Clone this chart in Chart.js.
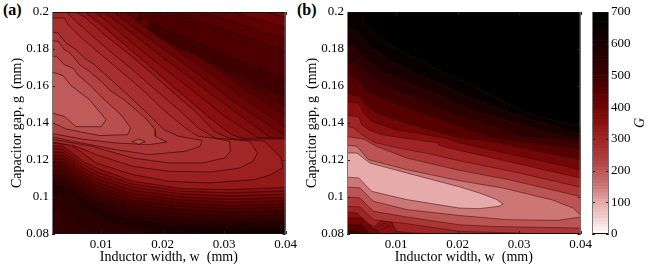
<!DOCTYPE html>
<html lang="en">
<head>
<meta charset="UTF-8">
<title>Contours of G</title>
<script src="https://cdn.jsdelivr.net/npm/chart.js"></script>
<style>
  html, body { margin: 0; background: #fff; }
  canvas { position: absolute; top: 0; }
  .tag { position: absolute; top: 1px; font: bold 16px "Liberation Serif", serif; }
  .cbar-title { position: absolute; left: 633px; top: 115px; width: 14px; text-align: center; line-height: 16px;
    font: italic 14px "Liberation Serif", serif; transform: rotate(-90deg); }
</style>
</head>
<body>
<div class="tag" style="left:3px">(a)</div>
<div class="tag" style="left:297px">(b)</div>
<canvas id="panelA" width="300" height="273" style="left:0"></canvas>
<canvas id="panelB" width="300" height="273" style="left:295px"></canvas>
<canvas id="bar" width="69" height="273" style="left:585px"></canvas>
<div class="cbar-title">G</div>

<script>
// axes, all contour points below are [w, g] in um (axis shows mm)
const xTicks = [0.01, 0.02, 0.03, 0.04];
const yTicks = [0.08, 0.1, 0.12, 0.14, 0.16, 0.18, 0.2];
const barTicks = [0, 100, 200, 300, 400, 500, 600, 700];
const barStep = 10;

// colorbar
const stopG = [0, 50, 100, 150, 200, 250, 300, 350, 400, 450, 500, 550, 600, 650, 700];
const stopRGB = [[255,255,255],[240,208,208],[230,170,170],[204,118,118],[188,84,84],[172,54,54],
  [160,36,36],[138,16,16],[112,6,6],[86,0,0],[60,0,0],[42,0,0],[24,0,0],[8,0,0],[0,0,0]];

// shared w columns for the lower contours of panel (a)
const lowerW = [0, 3.8, 5.1, 7, 9.7, 15.1, 23.1, 31.2, 42];
const lowerG340 = [127.9, 127.4, 124.3, 119.3, 115, 108.5, 104.5, 104, 105.4];
const lowerG360 = [126.3, 125.8, 122.7, 117.5, 113, 107, 103.1, 102.2, 103.6];
const lowerG380 = [124.7, 124.1, 120.9, 115.7, 111.2, 105.4, 101.6, 100.5, 101.8];
const lowerG400 = [122.9, 122.3, 119.1, 113.9, 109.4, 103.6, 100, 98.7, 100];
const lowerG420 = [121.1, 120.5, 117.3, 112.1, 107.4, 101.8, 98.4, 97.1, 98.2];
const lowerG440 = [119.3, 118.7, 115.5, 110.3, 105.6, 100, 96.6, 95.3, 96.4];
const lowerG460 = [117.1, 116.6, 113.3, 108.3, 103.8, 98.2, 95, 93.7, 94.6];
const lowerG480 = [114.8, 114.2, 111.2, 106.3, 101.6, 96.2, 93.2, 91.9, 92.6];
const lowerG500 = [112.1, 111.5, 108.7, 104, 99.3, 94, 91, 89.5, 90.4];
const lowerG520 = [109.4, 108.8, 106.1, 101.3, 96.8, 91.3, 88.5, 87.7, 88.6];
const lowerG540 = [106.7, 106.1, 103.1, 99, 95.3, 89.2, 86.7, 86.1, 86.9];

const upper340 = [[0,205],[7,205],[7.3,200],[9.7,194.1],[12.9,185],[16.7,174.2],[20.4,163.4],[24.2,152.6],[28,141.8],[31.2,133.7],[33.3,131.5],[42,131.4]];
const upper360 = [[0,205],[8.4,205],[8.9,200],[11.3,194.1],[15.1,183.2],[18.8,173.3],[22.6,163.4],[26.4,153.5],[30.1,143.6],[35.5,131.9],[42,131.7]];
const upper380 = [[0,205],[10,205],[10.5,200],[13.2,193.2],[16.7,184.1],[20.4,174.5],[24.2,165.2],[28,155.3],[31.7,146.3],[37.6,131.9],[42,131.4]];
const upper400 = [[0,205],[12,205],[12.1,200],[15.1,192.3],[18.8,183.2],[22.6,174.2],[26.4,164.8],[30.1,155.3],[33.9,146.3],[40,132.8],[42,131.3]];
const upper420 = [[0,205],[13.9,205],[14,200],[16.7,193.2],[20.4,184.1],[24.2,175.1],[28,166.1],[31.7,157.1],[35.5,148.1],[40.3,137.3],[42,136.5]];
const upper440 = [[0,205],[15.8,205],[15.9,200],[17.8,194.1],[21.5,186],[25.8,176],[30.1,166.1],[34.4,156.2],[40.3,143.6],[42,142]];
const upper460 = [[0,205],[17.3,205],[17.2,200],[18.8,192.3],[22,185.4],[26.4,176],[30.7,167],[35,158],[40.3,149],[42,148]];

// top right corner of panel (a), on the far side of the dark lobe
const corner400 = [[36.4,205],[36.6,200],[40.3,196.8],[42,196],[42,205]];
const corner420 = [[31,205],[31.2,200],[35.5,195.9],[40.3,191.4],[42,191],[42,205]];
const corner440 = [[26,205],[26.4,200],[31.2,195],[36,189.6],[40.3,185.4],[42,185],[42,205]];
const corner460 = [[21.3,205],[21.5,200],[26.9,194.1],[32.3,187.7],[40.3,178.7],[42,178],[42,205]];
const cornerLow540 = [[0,94.6],[4.3,91.4],[7,84],[9.2,76],[0,76]];

function withLower(upper, lowerG) {
  const pts = upper.slice();
  for (let i = lowerW.length - 1; i >= 0; i--) pts.push([lowerW[i], lowerG[i]]);
  return pts;
}

// region below each level, lowest level first
const levelsA = [200, 220, 240, 260, 280, 300, 320, 340, 360, 380, 400, 420, 440, 460, 480, 500, 520, 540, 560, 580, 600];
const contoursA = [
  [[[0,169.7],[3.8,165.6],[5.1,160.2],[8.1,152.6],[10.8,141.8],[10,138],[5.9,138],[4,143.6],[0,147.2]]],
  [[[0,176.9],[2.7,176],[4,171.5],[5.4,169.7],[6.2,166.1],[8.1,160.7],[10.2,153.5],[13.2,144.5],[14.8,137.3],[14.3,133.7],[9.7,133.2],[4.3,136.8],[0,143.3]]],
  [[[0,185.4],[3,184.1],[4,179.6],[4.6,178.7],[5.4,176],[6.5,171.5],[8.1,167.9],[10,162.5],[11.6,157.1],[13.7,152.6],[17.2,142.7],[18.8,136.4],[18.8,132.8],[20.7,129.7],[17.8,128.3],[12.4,129.2],[7,131.3],[0,135.5]]],
  [[[0,190.5],[3,188.6],[4.3,183.2],[5.9,179.6],[7.3,175.1],[8.9,171.5],[11,165.2],[13.7,157.1],[17.2,146.3],[20.2,136.4],[22.6,132.8],[26.4,130.6],[26.1,127.4],[23.7,124.7],[17.8,122.9],[12.4,125.6],[5.4,130.1],[0,134]]],
  [[[0,196.8],[4,196.8],[4.6,193.2],[6.5,186.9],[9.7,177.8],[12.9,168.8],[16.7,158],[20.4,146.3],[23.7,137.3],[25.8,132.8],[28.5,131.7],[30.9,130.1],[31,124.7],[30.1,121.1],[26.4,118.4],[21,118.4],[15.1,121.1],[8.6,127.4],[5.4,129.2],[0,132.6]]],
  [[[0,205],[4,205],[4.3,200],[6.2,194.1],[8.6,186.9],[11.8,177.8],[15.1,168.8],[18.8,158],[22.6,147.2],[25.8,137.3],[28.5,131.9],[34.2,130.1],[35.4,123.8],[34.7,119.3],[32.5,115.7],[27.9,113.5],[21,113.9],[15.1,116.6],[9.2,122.9],[5.9,127.4],[0,131]]],
  [[[0,205],[5.6,205],[5.9,200],[7.5,196.8],[10.2,188.6],[14,178.7],[17.8,168],[21.5,157.1],[25.3,146.3],[28.5,135.2],[30.9,131.7],[36.6,130.1],[39.3,121.1],[39.5,115.7],[37.6,112.1],[35,109.4],[27.4,107.6],[21,108.5],[15.1,112.1],[9.2,118.4],[6.2,125.6],[5,128.3],[0,129.6]]],
  [withLower(upper340, lowerG340)],
  [withLower(upper360, lowerG360)],
  [withLower(upper380, lowerG380)],
  [withLower(upper400, lowerG400), corner400],
  [withLower(upper420, lowerG420), corner420],
  [withLower(upper440, lowerG440), corner440],
  [withLower(upper460, lowerG460), corner460],
  [withLower([[0,205],[42,205]], lowerG480)],
  [withLower([[0,205],[42,205]], lowerG500)],
  [withLower([[0,205],[42,205]], lowerG520)],
  [withLower([[0,205],[42,205]], lowerG540), cornerLow540],
  [[[0,205],[42,205],[42,90],[40.3,90.2],[31.2,85],[23.1,85.2],[15.1,87.4],[9.7,92.9],[6.7,98.7],[5.8,100.5],[7,93.7],[11.9,86.4],[16.7,81.9],[19.4,75],[0,75]]],
  [[[0,205],[42,205],[42,84],[40.3,83.6],[31.2,84.7],[23.1,83.5],[17.8,84.5],[14,87.8],[17.2,83.3],[22,75],[0,75]]],
  [[[0,205],[42,205],[42,82],[40.3,82.2],[31.2,82],[25.8,82.3],[22.6,84.2],[25.8,80.5],[28.5,75],[0,75]]]
];
// small closed contours drawn over the bands: level, points
const islandLevelsA = [220, 500, 500, 500, 500, 580, 600];
const islandsA = [
  [[15,129.9],[16.1,131.3],[17.2,129.9],[16.1,128.5]],
  [[17.5,191.4],[18,194.1],[20.4,190.5],[25.8,183.2],[31.2,175.1],[36.6,167.9],[42,160],[42,152],[36,160],[31,168],[28.5,172.5],[23.1,180],[18.8,187.5]],
  [[15.6,196.2],[16.1,197.3],[16.8,196.2],[16.1,195]],
  [[27.4,175.7],[28,176.5],[29,175.7],[28,174.5]],
  [[37.7,162.2],[38.2,162.6],[39,162.2],[38.2,161.8]],
  [[0,106.7],[3.8,105],[4.2,103.2],[3,101],[0,101]],
  [[11.4,90],[12.1,90.4],[12.8,90],[12.1,89.6]]
];

const levelsB = [125, 175, 225, 275, 325, 375, 425, 475, 525, 575, 625, 675];
const contoursB = [
  [[[0,123.8],[3.6,123.8],[5.7,118.4],[11.7,113],[20.3,105.5],[23.5,102.2],[26.2,98.9],[27.4,96.2],[26.7,95],[23.5,93.7],[20.3,94],[11.7,98.6],[6,103.1],[3.9,110.3],[0,111.2]]],
  [[[0,128.8],[3.6,127.4],[5.5,120.2],[11.7,114.8],[20.3,108.8],[27.3,104.9],[35.3,98.5],[38.8,94],[40,90.2],[42,90],[38.8,88.6],[36.4,87.4],[28.3,87.7],[20.3,90],[11.7,93.2],[6.3,97.7],[4.1,104.9],[0,105.8]]],
  [[[0,133.7],[4.7,131.3],[6.8,127.4],[11.7,121.1],[20.3,114.4],[28.3,109.4],[39.9,100.3],[42,99.5],[42,83],[39.9,83.2],[25.6,84.1],[20.3,85],[11.7,89.2],[6.3,92.3],[4.1,99.5],[0,100.4]]],
  [[[0,140],[3.1,137.3],[4.4,133.7],[6.5,129.5],[10,126.7],[15,123.6],[20.3,119.6],[30,113],[39.9,105.4],[42,104.6],[42,79],[36,79.5],[30,80.5],[20.3,81.4],[11.7,85.6],[6.3,87.7],[4.1,94.6],[0,95.3]]],
  [[[0,145.4],[3.9,143.2],[4.4,139.1],[5.5,136.4],[7.6,133.7],[16.8,129.2],[17,127.8],[20.3,125.2],[39.9,110.3],[42,109.5],[42,77],[20,79.5],[13,80.5],[10.1,81.4],[9.3,86.3],[7.6,87.4],[6.5,84],[5.5,85.5],[3.6,91.4],[0,92.2]]],
  [[[0,152],[3.9,150.8],[4.7,145.4],[6,140.9],[9.8,136.4],[17.9,131.9],[20.3,129.2],[39.9,114.8],[42,114],[42,76],[7.6,76],[7,82],[6,83.2],[4.9,88.6],[0,88.6]]],
  [[[0,158],[4.1,154],[5,149.9],[6.8,145.4],[12.5,139],[20.3,132],[25.6,130],[39.9,120.2],[42,119.6],[42,76],[6.2,76],[5.4,81.5],[4.3,85],[0,85.1]]],
  [[[0,166],[2.8,165.2],[4.1,162.5],[5.2,157.1],[7.6,153.5],[12.5,147.2],[17.3,141.8],[21.9,136.4],[25.6,132.2],[30,130.1],[39.9,125.6],[42,125],[42,76],[5,76],[4.2,80.5],[3.3,82],[0,82.3]]],
  [[[0,173.3],[3.3,172.4],[4.4,167.9],[6.6,162.5],[8.7,158.9],[12.5,154.4],[17.3,147.2],[21.9,141.8],[25.6,138.5],[30.5,132.4],[34.3,131.3],[39.9,130.3],[42,130],[42,76],[4,76],[3,80.5],[0,81]]],
  [[[0,182.3],[3.1,181.4],[5,174.2],[7.6,167.9],[12.5,160.7],[17.3,154.4],[21.9,147.2],[26.7,142.7],[34.8,134.6],[39.9,131],[42,130.8],[42,76],[0,76]]],
  [[[0,191.5],[3.6,189.5],[5.5,181.4],[8.7,174.2],[13,167],[17.3,160.7],[21.9,153.5],[31,142.7],[39.9,133.7],[42,132.5],[42,76],[0,76]]],
  [[[0,205],[4.3,205],[4.7,194],[7.1,186],[10.9,178.7],[14.6,172.4],[18.4,166],[21.9,161.2],[31,145.4],[42,136],[42,76],[0,76]]]
];
const islandLevelsB = [375];
const islandsB = [
  [[6.3,82.3],[8.2,86],[8.9,84.2],[7.1,81.8]]
];

function colorAt(g) {
  let i = 0;
  while (i < stopG.length - 2 && g > stopG[i + 1]) i++;
  const t = Math.min(1, Math.max(0, (g - stopG[i]) / (stopG[i + 1] - stopG[i])));
  const c = stopRGB[i].map((v, k) => Math.round(v + (stopRGB[i + 1][k] - v) * t));
  return `rgb(${c[0]},${c[1]},${c[2]})`;
}

function polygon(pts, fillColor, lineColor) {
  const closed = pts.concat([pts[0]]);
  return {
    data: closed.map(p => ({ x: p[0] / 1000, y: p[1] / 1000 })),
    showLine: true,
    fill: 'shape',
    backgroundColor: fillColor,
    borderColor: lineColor,
    borderWidth: 0.7,
    pointRadius: 0,
    tension: 0,
    clip: 0
  };
}

// chart paints the last dataset first, so innermost comes first here
function buildDatasets(levels, contours, islandLevels, islands, offset, base, lineColor) {
  const sets = [];
  islands.forEach((pts, i) => sets.push(polygon(pts, colorAt(islandLevels[i] - offset), lineColor)));
  levels.forEach((lv, i) => {
    contours[i].forEach(pts => sets.push(polygon(pts, colorAt(lv - offset), lineColor)));
  });
  sets.push(polygon([[0,205],[42,205],[42,75],[0,75]], base, 'rgba(0,0,0,0)'));
  return sets;
}

// frame and the short inward ticks
const framePlugin = {
  id: 'frame',
  afterDatasetsDraw(chart) {
    const { ctx, chartArea: a, scales } = chart;
    ctx.save();
    ctx.lineWidth = 1;
    ctx.strokeStyle = '#222';
    ['x', 'y'].forEach(id => {
      const s = scales[id];
      if (!s || !s.options.display) return;
      s.ticks.forEach(t => {
        const p = Math.round(s.getPixelForValue(t.value)) + 0.5;
        ctx.beginPath();
        if (id === 'x') { ctx.moveTo(p, a.bottom); ctx.lineTo(p, a.bottom - 3); ctx.moveTo(p, a.top); ctx.lineTo(p, a.top + 3); }
        else { ctx.moveTo(a.left, p); ctx.lineTo(a.left + 3, p); ctx.moveTo(a.right, p); ctx.lineTo(a.right - 3, p); }
        ctx.stroke();
      });
    });
    ctx.strokeStyle = '#111';
    ctx.beginPath(); ctx.moveTo(a.left, a.top + 0.5); ctx.lineTo(a.right, a.top + 0.5);
    ctx.moveTo(a.left, a.bottom - 0.5); ctx.lineTo(a.right, a.bottom - 0.5); ctx.stroke();
    ctx.strokeStyle = '#777';
    ctx.beginPath(); ctx.moveTo(a.left + 0.5, a.top); ctx.lineTo(a.left + 0.5, a.bottom);
    ctx.moveTo(a.right - 0.5, a.top); ctx.lineTo(a.right - 0.5, a.bottom); ctx.stroke();
    ctx.restore();
  }
};

const serif = '"Liberation Serif", serif';

function contourChart(id, datasets, rightPad) {
  return new Chart(document.getElementById(id), {
    type: 'scatter',
    data: { datasets },
    plugins: [framePlugin],
    options: {
      responsive: false,
      animation: false,
      layout: { padding: { top: 12, right: rightPad, left: 0, bottom: 0 } },
      plugins: { legend: { display: false }, tooltip: { enabled: false } },
      scales: {
        x: {
          type: 'linear', min: 0.002, max: 0.04,
          grid: { display: false, drawTicks: false }, border: { display: false },
          afterBuildTicks: s => { s.ticks = xTicks.map(v => ({ value: v })); },
          afterFit: s => { s.height = 39; },
          ticks: { color: '#000', font: { family: serif, size: 13 }, padding: 3, maxRotation: 0, autoSkip: false,
            callback: v => String(v) },
          title: { display: true, text: 'Inductor width, w  (mm)', color: '#000', font: { family: serif, size: 14 }, padding: { top: 0, bottom: 7 } }
        },
        y: {
          type: 'linear', min: 0.08, max: 0.2,
          grid: { display: false, drawTicks: false }, border: { display: false },
          afterBuildTicks: s => { s.ticks = yTicks.map(v => ({ value: v })); },
          afterFit: s => { s.width = 52; },
          ticks: { color: '#000', font: { family: serif, size: 13 }, padding: 3, autoSkip: false,
            callback: v => String(v) },
          title: { display: true, text: 'Capacitor gap, g  (mm)', color: '#000', font: { family: serif, size: 14 }, padding: { top: 9, bottom: 0 } }
        }
      }
    }
  });
}

contourChart('panelA', buildDatasets(levelsA, contoursA, islandLevelsA, islandsA, 10, '#0f0000', 'rgba(25,0,0,0.8)'), 12);
contourChart('panelB', buildDatasets(levelsB, contoursB, islandLevelsB, islandsB, 25, '#000', 'rgba(50,15,15,0.75)'), 13);

const barLows = [];
for (let g = 0; g < 700; g += barStep) barLows.push(g);

new Chart(document.getElementById('bar'), {
  type: 'bar',
  data: {
    labels: ['G'],
    datasets: barLows.map(lo => ({
      data: [[lo, lo + barStep]],
      backgroundColor: colorAt(lo + barStep / 2),
      borderWidth: 0,
      barPercentage: 1,
      categoryPercentage: 1,
      grouped: false
    }))
  },
  plugins: [framePlugin],
  options: {
    responsive: false,
    animation: false,
    layout: { padding: { top: 12, left: 7, right: 0, bottom: 39 } },
    plugins: { legend: { display: false }, tooltip: { enabled: false } },
    scales: {
      x: { display: false },
      y: {
        position: 'right', min: 0, max: 700,
        grid: { display: false, drawTicks: false }, border: { display: false },
        afterBuildTicks: s => { s.ticks = barTicks.map(v => ({ value: v })); },
        afterFit: s => { s.width = 45; },
        ticks: { color: '#000', font: { family: serif, size: 13 }, padding: 2, autoSkip: false }
      }
    }
  }
});
</script>
</body>
</html>
